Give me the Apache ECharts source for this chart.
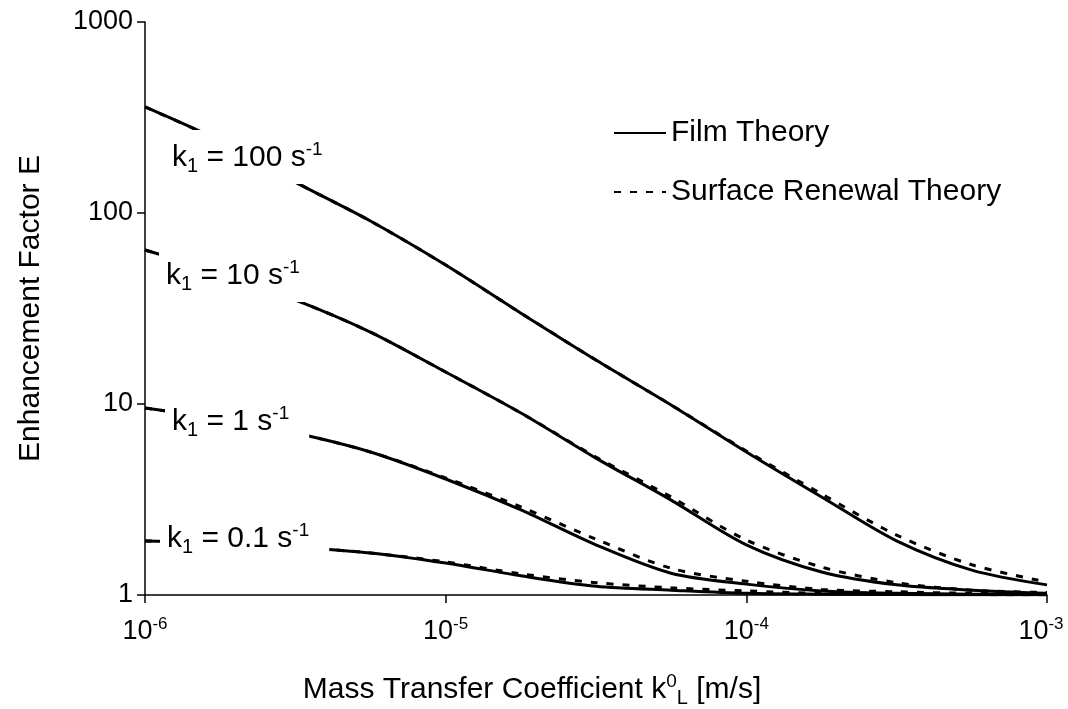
<!DOCTYPE html>
<html>
<head>
<meta charset="utf-8">
<script src="https://cdn.jsdelivr.net/npm/echarts@6/dist/echarts.min.js"></script>
<style>
  html, body { margin: 0; padding: 0; background: #fff; }
  #chart { width: 1068px; height: 709px; }
</style>
</head>
<body>
<div id="chart"></div>
<script>
// mass transfer coefficient k0L [m/s], quarter-decade steps
const kL = [1e-6, 1.78e-6, 3.16e-6, 5.62e-6, 1e-5, 1.78e-5, 3.16e-5, 5.62e-5, 1e-4, 1.78e-4, 3.16e-4, 5.62e-4, 1e-3]

// enhancement factor E, film theory
const film100 = [359, 238, 145, 90.8, 53.4, 29.9, 17.0, 9.89, 5.61, 3.26, 1.92, 1.35, 1.13]
const film10 = [64.0, 48.5, 35.1, 23.8, 14.7, 8.97, 5.21, 3.14, 1.83, 1.32, 1.13, 1.06, 1.02]
const film1 = [9.53, 8.35, 7.05, 5.61, 4.05, 2.79, 1.83, 1.30, 1.14, 1.05, 1.02, 1.01, 1.01]
const film01 = [1.92, 1.87, 1.78, 1.66, 1.47, 1.26, 1.11, 1.06, 1.02, 1.01, 1.006, 1.003, 1.002]

// enhancement factor E, surface renewal theory
const sr100 = [359, 238, 145, 90.8, 53.4, 29.9, 17.0, 9.89, 5.68, 3.38, 2.06, 1.44, 1.17]
const sr10 = [64.0, 48.5, 35.1, 23.8, 14.7, 8.97, 5.28, 3.26, 1.94, 1.40, 1.16, 1.06, 1.03]
const sr1 = [9.53, 8.35, 7.05, 5.61, 4.10, 2.89, 1.96, 1.38, 1.18, 1.07, 1.04, 1.02, 1.01]
const sr01 = [1.92, 1.87, 1.78, 1.66, 1.49, 1.29, 1.16, 1.09, 1.05, 1.02, 1.01, 1.005, 1.003]

const rateLabels = ['100', '10', '1', '0.1']

const FONT = '"Liberation Sans", Arial, sans-serif'
const FS = 30
const TICK_FS = 27

const rich = {
  m: { fontSize: FS, lineHeight: 36, fontFamily: FONT, color: '#000' },
  sub: { fontSize: 20, lineHeight: 20, verticalAlign: 'bottom', fontFamily: FONT, color: '#000' },
  sup: { fontSize: 19, lineHeight: 20, verticalAlign: 'top', fontFamily: FONT, color: '#000' },
}

const tickRich = {
  b: { fontSize: TICK_FS, lineHeight: 32, fontFamily: FONT, color: '#000' },
  s: { fontSize: 17, lineHeight: 17, verticalAlign: 'top', fontFamily: FONT, color: '#000' },
  se: { fontSize: 17, lineHeight: 17, verticalAlign: 'top', fontFamily: FONT, color: '#000', padding: [0, 12, 0, 0] },
}

function line(name, data, dashed) {
  return {
    name,
    type: 'line',
    data: kL.map((x, i) => [x, data[i]]),
    symbol: 'none',
    showSymbol: false,
    smooth: 0.3,
    silent: true,
    z: dashed ? 3 : 2,
    lineStyle: { color: '#000', width: 3, type: dashed ? [7, 9] : 'solid' },
    itemStyle: { color: '#000' },
  }
}

// label box top-left corners (px)
const labelPos = [[165, 130], [159, 248], [165, 394], [160, 511]]

const chart = echarts.init(document.getElementById('chart'))
chart.setOption({
  animation: false,
  backgroundColor: '#fff',
  textStyle: { fontFamily: FONT },
  grid: { left: 145, right: 21, top: 22, bottom: 114, containLabel: false, outerBoundsMode: 'none' },
  legend: {
    orient: 'vertical',
    left: 608,
    top: 113,
    itemWidth: 52,
    itemHeight: 14,
    itemGap: 29,
    data: ['Film Theory', 'Surface Renewal Theory'],
    itemStyle: { opacity: 0 },
    textStyle: { fontSize: FS, lineHeight: 30, color: '#000', fontFamily: FONT },
  },
  xAxis: {
    type: 'log',
    logBase: 10,
    min: 1e-6,
    max: 1e-3,
    splitNumber: 3,
    name: '{m|Mass Transfer Coefficient k}{sup|0}{sub|L}{m| [m/s]}',
    nameLocation: 'middle',
    nameGap: 77,
    nameTextStyle: { rich, padding: [0, 128, 0, 0] },
    axisLine: { lineStyle: { color: '#000', width: 1.5 } },
    axisTick: { length: 8, lineStyle: { color: '#000', width: 1.5 } },
    splitLine: { show: false },
    minorTick: { show: false },
    axisLabel: {
      margin: 21,
      rich: tickRich,
      formatter: v => {
        const e = Math.round(Math.log10(v))
        return '{b|10}{' + (e === -3 ? 'se' : 's') + '|' + e + '}'
      },
    },
  },
  yAxis: {
    type: 'log',
    logBase: 10,
    min: 1,
    max: 1000,
    splitNumber: 3,
    name: 'Enhancement Factor E',
    nameLocation: 'middle',
    nameGap: 99,
    nameTextStyle: { fontSize: FS, color: '#000', fontFamily: FONT },
    axisLine: { lineStyle: { color: '#000', width: 1.5 } },
    axisTick: { length: 8, lineStyle: { color: '#000', width: 1.5 } },
    splitLine: { show: false },
    axisLabel: {
      margin: 12,
      fontSize: TICK_FS,
      color: '#000',
      fontFamily: FONT,
      formatter: v => String(Math.round(v)),
    },
  },
  series: [
    line('Film Theory', film100, false),
    line('Film Theory', film10, false),
    line('Film Theory', film1, false),
    line('Film Theory', film01, false),
    line('Surface Renewal Theory', sr100, true),
    line('Surface Renewal Theory', sr10, true),
    line('Surface Renewal Theory', sr1, true),
    line('Surface Renewal Theory', sr01, true),
  ],
  graphic: rateLabels.map((r, i) => ({
    type: 'text',
    x: labelPos[i][0],
    y: labelPos[i][1],
    z: 100,
    style: {
      text: '{m|k}{sub|1}{m| = ' + r + ' s}{sup|-1}',
      rich,
      align: 'left',
      verticalAlign: 'top',
      backgroundColor: '#fff',
      padding: [10, 20, 8, 7],
    },
  })),
})
</script>
</body>
</html>
